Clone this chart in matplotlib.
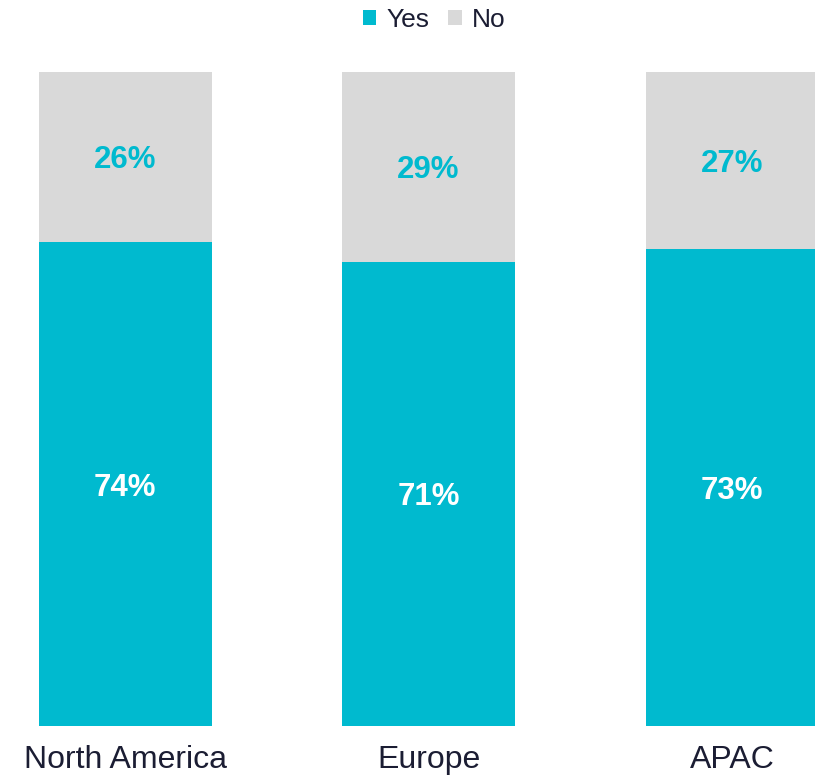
import matplotlib
matplotlib.use("Agg")
import matplotlib.pyplot as plt
import numpy as np

# survey results by region
regions = ["North America", "Europe", "APAC"]
yes_pct = [74, 71, 73]
no_pct = [26, 29, 27]

TEAL = "#00BACF"
GREY = "#D9D9D9"
DARK = "#1B1D33"

plt.rcParams["font.family"] = ["Liberation Sans", "DejaVu Sans"]

fig = plt.figure(figsize=(8.15, 7.81), dpi=100)
ax = fig.add_axes([0, 55 / 781, 1, 726 / 781])

x = np.arange(len(regions))
yes = np.array(yes_pct) / 100
no = np.array(no_pct) / 100
width = 0.57

ax.bar(x, yes, width, color=TEAL, label="Yes")
ax.bar(x, no, width, bottom=yes, color=GREY, label="No")

for xi, y, n in zip(x, yes_pct, no_pct):
    ax.text(xi, y / 200, f"{y}%", ha="center", va="center_baseline",
            color="white", fontsize=22.5, fontweight="bold")
    ax.text(xi, y / 100 + n / 200, f"{n}%", ha="center", va="center_baseline",
            color=TEAL, fontsize=22.5, fontweight="bold")

ax.set_xlim(-0.412, 2.273)
ax.set_ylim(0, 1.11)
ax.set_xticks(x)
ax.set_xticklabels(regions, fontsize=23, color=DARK)
ax.tick_params(axis="x", length=0, pad=14)
ax.set_yticks([])
for s in ax.spines.values():
    s.set_visible(False)

fig.legend(loc="center", bbox_to_anchor=(0.533, 0.974), ncol=2, frameon=False,
           fontsize=19, labelcolor=DARK, handlelength=0.5, handleheight=0.5,
           handletextpad=0.4, columnspacing=0.7)

fig.savefig("out.png", dpi=100)
